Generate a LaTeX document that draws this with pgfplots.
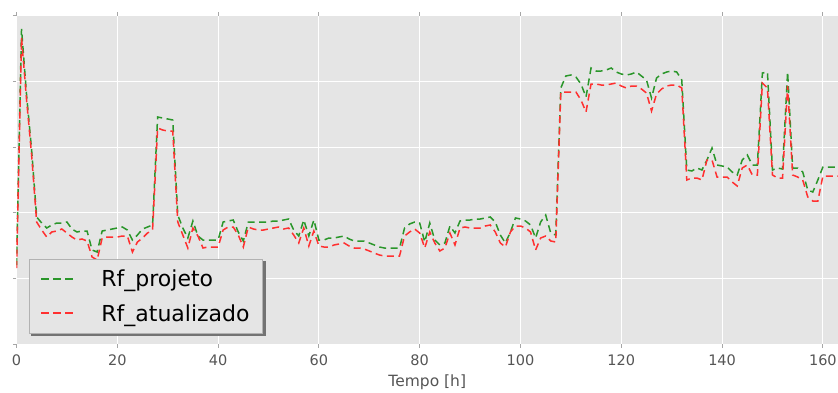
\documentclass[border=0pt]{standalone}
\usepackage{fontspec}
\setmainfont{DejaVu Sans}
\usepackage{pgfplots}
\usepackage{pgfplotstable}
\pgfplotsset{compat=1.18}
\definecolor{bggray}{HTML}{E5E5E5}
\definecolor{ticktxt}{HTML}{555555}
\definecolor{gline}{HTML}{2A962A}
\definecolor{rline}{HTML}{FF3030}

\pgfplotstableread{
x p a
0 79 76
1 315 306
2 249 244
3 194 189
4 127 122
5 121 114
6 116 107
7 119 112
8 121 113
9 121 115
10 122 111
11 115 107
12 112 104
13 113 105
14 113 103
15 94 87
16 92 84
17 113 106
18 114 107
19 115 107
20 116 107
21 117 108
22 114 108
23 104 92
24 109 102
25 115 106
26 117 111
27 119 114
28 227 216
29 226 214
30 225 213
31 224 213
32 129 122
33 116 109
34 106 96
35 123 116
36 108 108
37 104 96
38 104 97
39 104 97
40 104 97
41 122 114
42 123 117
43 124 117
44 112 109
45 103 97
46 122 117
47 122 115
48 122 114
49 122 114
50 122 115
51 123 116
52 123 117
53 124 115
54 125 116
55 114 109
56 108 101
57 124 116
58 108 98
59 124 113
60 104 98
61 104 97
62 106 97
63 106 99
64 107 100
65 108 101
66 105 98
67 103 96
68 103 96
69 103 95
70 101 93
71 99 91
72 97 89
73 96 88
74 96 88
75 96 88
76 96 88
77 116 108
78 120 112
79 122 115
80 121 111
81 102 96
82 121 112
83 104 101
84 99 93
85 101 96
86 118 111
87 111 99
88 123 116
89 124 117
90 124 116
91 125 116
92 125 116
93 126 118
94 127 119
95 122 112
96 109 101
97 101 97
98 112 112
99 126 118
100 125 118
101 123 116
102 119 112
103 106 94
104 122 106
105 129 108
106 111 103
107 109 102
108 256 252
109 268 252
110 269 252
111 267 252
112 260 244
113 247 232
114 276 260
115 273 260
116 273 259
117 274 259
118 276 260
119 272 261
120 270 258
121 269 256
122 270 258
123 272 258
124 268 255
125 264 251
126 246 233
127 266 250
128 270 255
129 272 258
130 273 259
131 272 259
132 264 256
133 174 164
134 173 166
135 176 166
136 174 164
137 184 184
138 196 184
139 179 167
140 178 167
141 177 167
142 172 162
143 169 158
144 184 176
145 189 179
146 179 169
147 179 169
148 271 261
149 272 256
150 174 169
151 176 166
152 175 166
153 272 258
154 176 169
155 176 167
156 172 164
157 154 147
158 152 143
159 164 143
160 177 168
161 177 168
162 177 168
163 177 168
164 177 168
}\datatable

\begin{document}
\begin{tikzpicture}
\begin{axis}[
  scale only axis,
  width=821.5pt, height=328.3pt,
  xmin=0, xmax=163,
  ymin=0, ymax=328.3,
  xtick={0,20,...,160},
  ytick={0,65.66,131.32,196.98,262.64,328.3},
  yticklabels={},
  axis background/.style={fill=bggray},
  axis line style={draw=none},
  grid=major,
  major grid style={white, line width=1pt},
  tick align=outside,
  major tick length=3.5pt,
  tick style={color=black!35, line width=0.8pt},
  /pgf/number format/assume math mode=true,
  ticklabel style={font=\fontsize{14.5pt}{16pt}\selectfont, text=ticktxt},
  xticklabel style={yshift=-4pt},
  xlabel={Tempo [h]},
  xlabel style={font=\fontsize{15.5pt}{18pt}\selectfont, text=ticktxt, yshift=-2pt},
  legend cell align=left,
  legend style={at={(0.0152,0.0305)}, anchor=south west, name=leg,
    font=\fontsize{22pt}{26pt}\selectfont,
    fill=bggray, draw=black!30, line width=0.8pt,
    inner xsep=11pt, inner ysep=9pt, row sep=12pt,
    /tikz/every even column/.append style={column sep=0pt}},
]
\coordinate (bl) at (rel axis cs:0,0);
\coordinate (tr) at (rel axis cs:1,1);
\addplot[gline, line width=1.5pt, dash pattern=on 7pt off 4.5pt,
  legend image code/.code={\path[draw=gline, fill=none, line width=1.8pt, dash pattern=on 8pt off 4pt] (0pt,0pt) -- (32pt,0pt);}] table[x=x, y=p] {\datatable};
\addlegendentry{\hspace{25pt}Rf\_projeto}
\addplot[rline, line width=1.5pt, dash pattern=on 7pt off 4.5pt,
  legend image code/.code={\path[draw=rline, fill=none, line width=2pt, dash pattern=on 8pt off 4pt] (0pt,0.6pt) -- (32pt,0.6pt);}] table[x=x, y=a] {\datatable};
\addlegendentry{\hspace{25pt}Rf\_atualizado}
\end{axis}
\fill[black!55] ([shift={(2pt,-2.5pt)}]leg.south west) rectangle ([shift={(2.5pt,0pt)}]leg.south east);
\fill[black!55] ([shift={(0pt,-2.5pt)}]leg.north east) rectangle ([shift={(2.5pt,0pt)}]leg.south east);
\pgfresetboundingbox
\useasboundingbox ([shift={(-16.5pt,-48pt)}]bl) rectangle ([shift={(0pt,15.7pt)}]tr);
\end{tikzpicture}
\end{document}
